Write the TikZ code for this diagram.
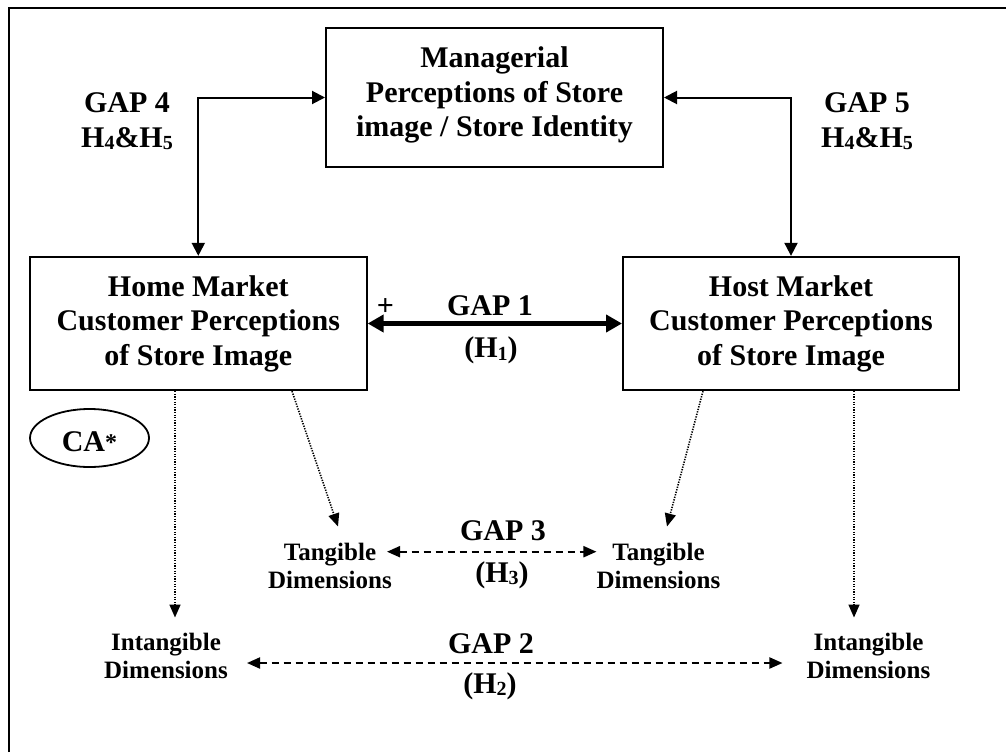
\documentclass[tikz,border=0pt]{standalone}
\usepackage{fontspec}
\setmainfont{Liberation Serif}
\usetikzlibrary{arrows.meta,shapes.geometric}
\newcommand\lsub[1]{\raisebox{-2.5pt}{\fontsize{20}{20}\selectfont #1}}
\begin{document}
\begin{tikzpicture}[x=1pt,y=-1pt,
  box/.style={draw, line width=2pt, align=center, inner sep=0pt, font=\bfseries\fontsize{30}{34.5}\selectfont},
  lbl/.style={align=center, inner sep=0pt, font=\bfseries\fontsize{30}{35}\selectfont},
  dim/.style={align=center, inner sep=0pt, font=\bfseries\fontsize{25}{28}\selectfont},
  link/.style={line width=2pt, {Triangle[length=13pt,width=13pt]}-{Triangle[length=13pt,width=13pt]}},
  bigarrow/.style={line width=5.5pt, {Triangle[length=16pt,width=17pt]}-{Triangle[length=16pt,width=17pt]}},
  dashar/.style={line width=2pt, dash pattern=on 7pt off 5pt, {Triangle[length=13pt,width=11pt]}-{Triangle[length=13pt,width=11pt]}},
  dotar/.style={line width=1.6pt, dash pattern=on 1.3pt off 1.3pt, -{Triangle[length=13pt,width=11pt]}}
]
\useasboundingbox (0,0) rectangle (1006,752);
\fill[white] (0,0) rectangle (1006,752);
\draw[line width=2.5pt] (9,752) -- (9,8) -- (1006,8);

% boxes
\node[box, minimum width=337pt, minimum height=139pt] (mgr) at (494.5,97.5)
  {Managerial\\Perceptions of Store\\image / Store Identity\rule[-11pt]{0pt}{0pt}};
\node[box, minimum width=336.7pt, minimum height=133.3pt] (home) at (198.3,323.5)
  {Home Market\\Customer Perceptions\\of Store Image\rule[-6pt]{0pt}{0pt}};
\node[box, minimum width=336pt, minimum height=133.3pt] (host) at (791,323.5)
  {Host Market\\Customer Perceptions\\of Store Image\rule[-6pt]{0pt}{0pt}};
\node[draw, ellipse, line width=1.8pt, minimum width=119pt, minimum height=58pt, inner sep=0pt,
  font=\bfseries\fontsize{30}{30}\selectfont] (ca) at (89.5,438)
  {\rule{0pt}{28pt}CA\raisebox{1pt}{\fontsize{24}{24}\selectfont *}};

% gap labels
\node[lbl] (g4) at (127,121.4) {GAP 4\\H\lsub{4}\&H\lsub{5}};
\node[lbl] (g5) at (867,121.4) {GAP 5\\H\lsub{4}\&H\lsub{5}};
\node[lbl, anchor=base] (g1) at (490,315) {GAP 1};
\node[lbl, anchor=base] (h1) at (491,357.7) {(H\lsub{1})};
\node[lbl] (plus) at (385.5,307.5) {+};
\node[lbl, anchor=base] (g3) at (503,540) {GAP 3};
\node[lbl, anchor=base] (h3) at (502,582) {(H\lsub{3})};
\node[lbl, anchor=base] (g2) at (491,653) {GAP 2};
\node[lbl, anchor=base] (h2) at (490,693) {(H\lsub{2})};

% dimension nodes
\node[dim] (tangL) at (330,565.5) {Tangible\\Dimensions};
\node[dim] (tangR) at (658.5,565.5) {Tangible\\Dimensions};
\node[dim] (intL) at (166,655.5) {Intangible\\Dimensions};
\node[dim] (intR) at (868.5,655.5) {Intangible\\Dimensions};

% connectors
\draw[link] (home.north) |- (mgr.west);
\draw[link] (host.north) |- (mgr.east);
\draw[bigarrow] (home.east) -- (host.west);
\draw[dashar] ([shift={(-5,-13.8)}]tangL.east) -- ([shift={(0,-13.8)}]tangR.west);
\draw[dashar] ([shift={(19,7.5)}]intL.east) -- ([shift={(-24,7.5)}]intR.west);
\draw[dotar] ([shift={(-23.3,0)}]home.south) -- ([shift={(9,-15)}]intL.north);
\draw[dotar] ([shift={(93.7,0)}]home.south) -- ([shift={(8,-16)}]tangL.north);
\draw[dotar] ([shift={(-88,0)}]host.south) -- ([shift={(8.5,-16)}]tangR.north);
\draw[dotar] ([shift={(63,0)}]host.south) -- ([shift={(-14.5,-15)}]intR.north);
\end{tikzpicture}
\end{document}
